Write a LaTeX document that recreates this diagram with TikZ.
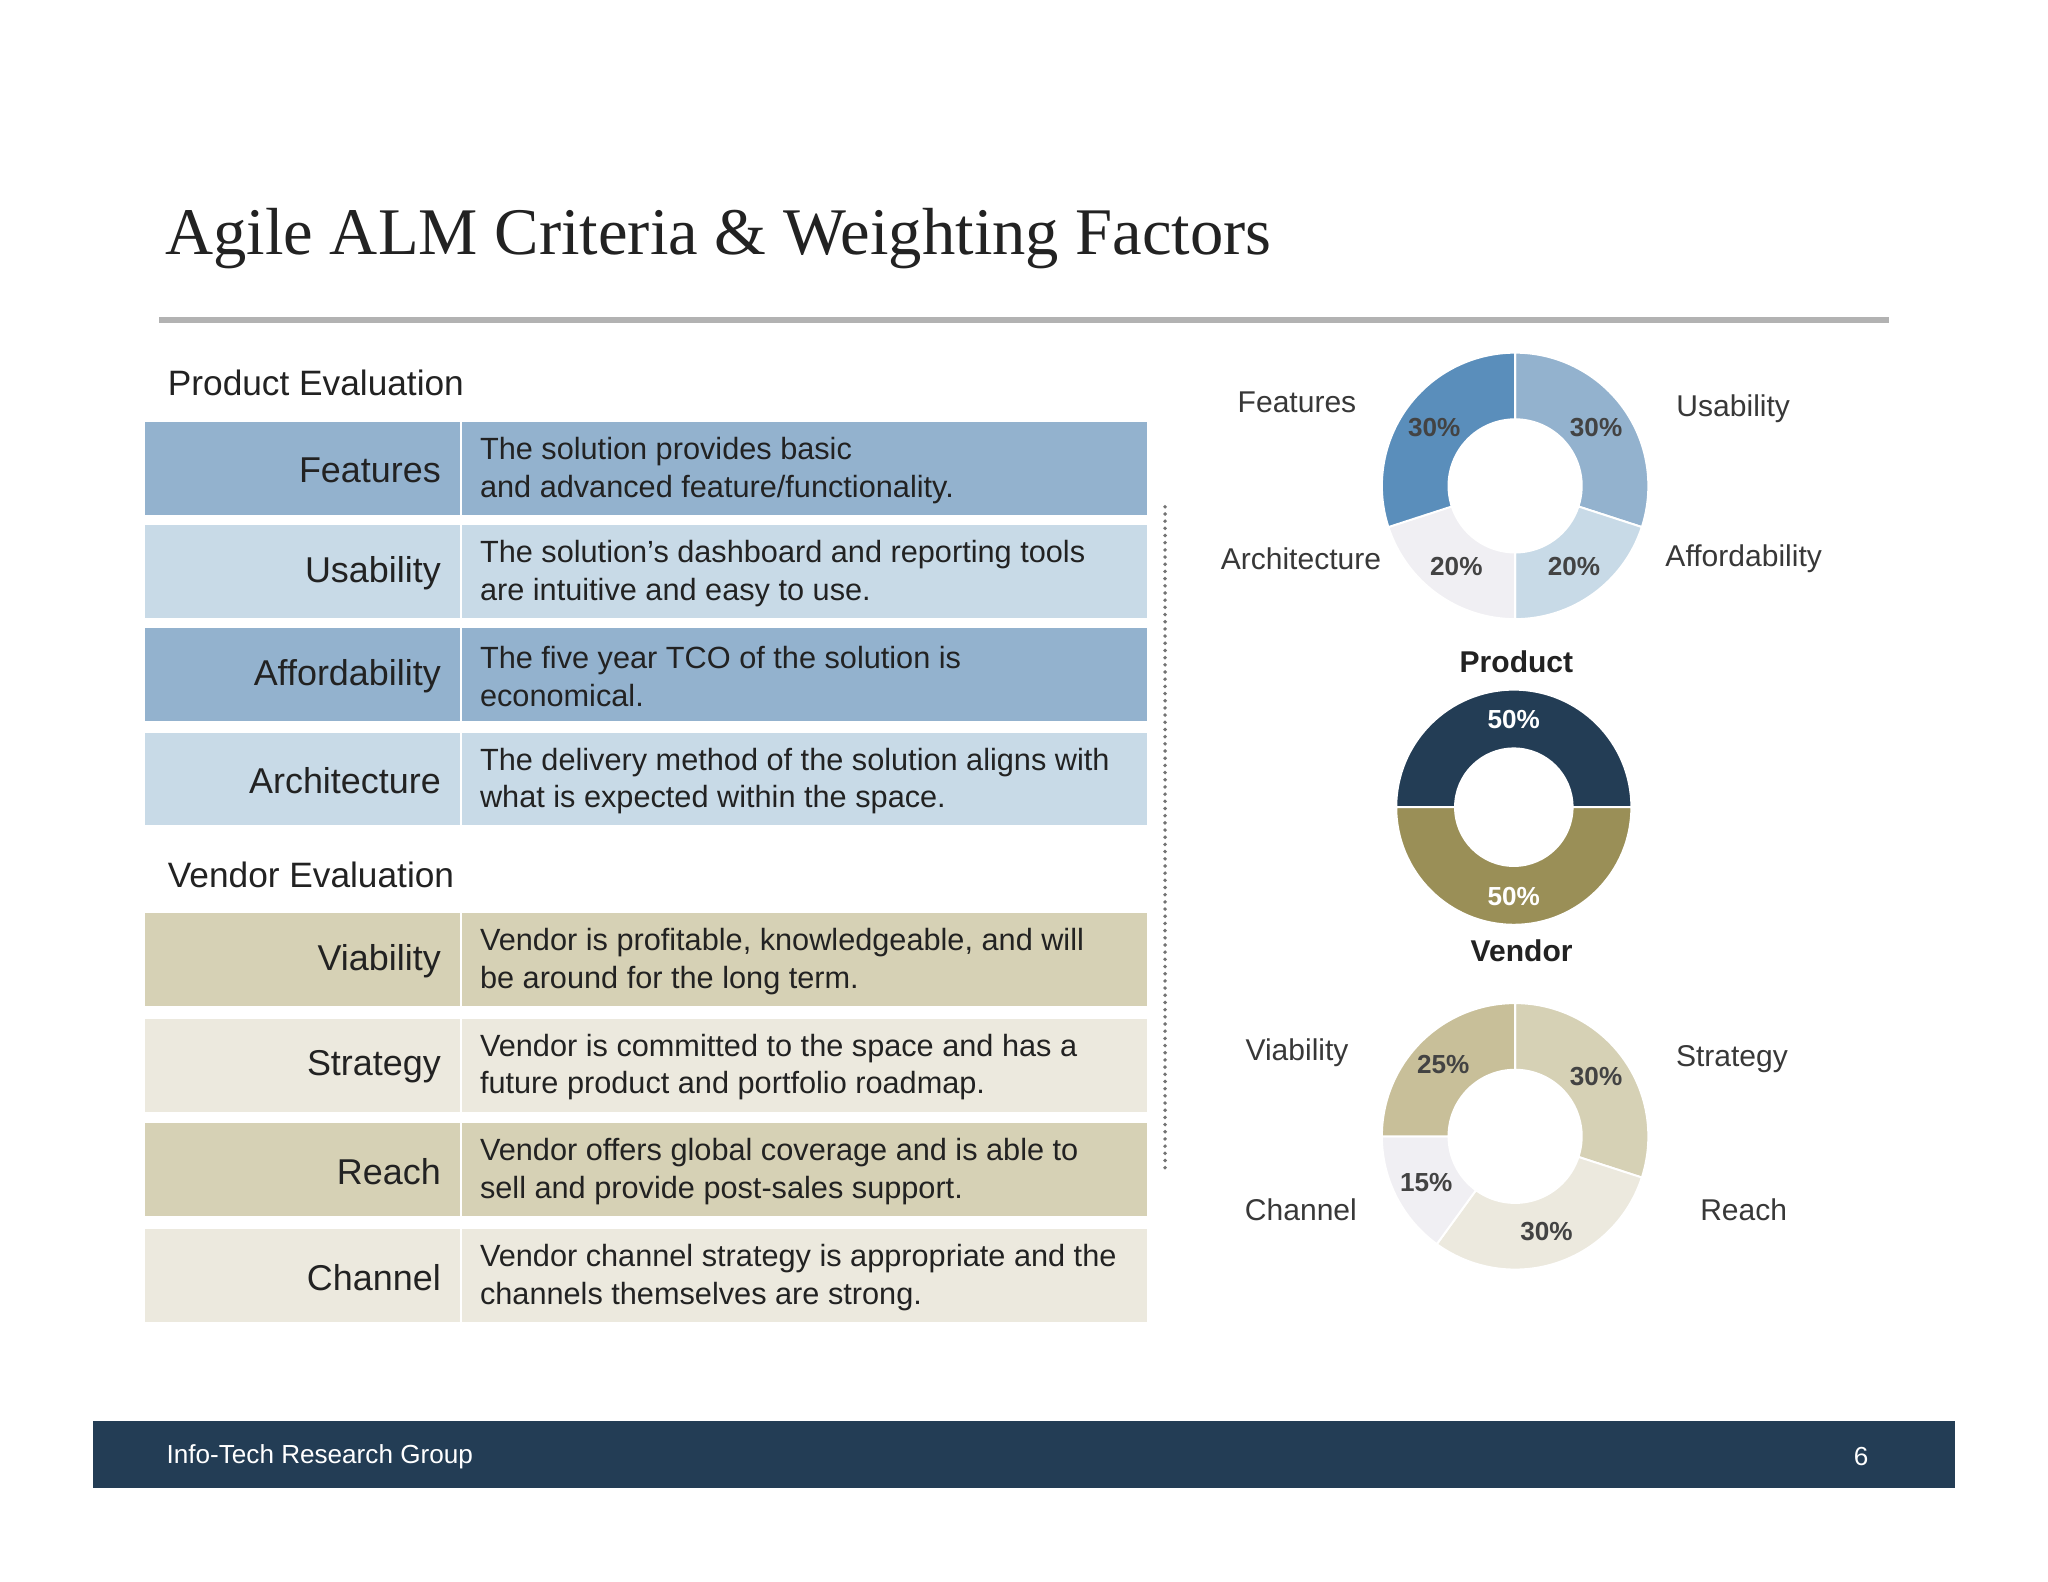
\documentclass[tikz,border=0pt]{standalone}
\usepackage{fontspec}
\setmainfont{Liberation Sans}
\newfontfamily\titlefont{Liberation Serif}
\usetikzlibrary{calc}
\definecolor{bdark}{HTML}{93B2CE}
\definecolor{blight}{HTML}{C8DAE7}
\definecolor{bdeep}{HTML}{5A8EBB}
\definecolor{bpale}{HTML}{F0EFF3}
\definecolor{tdark}{HTML}{D6D1B5}
\definecolor{tlight}{HTML}{ECE9DE}
\definecolor{tdeep}{HTML}{C8BF99}
\definecolor{navy}{HTML}{233D55}
\definecolor{olive}{HTML}{9A8F57}
\definecolor{txt}{HTML}{222222}
\newcommand{\annseg}[6]{% center, R, r, a1, a2, color
  \fill[#6,draw=white,line width=1.5pt] ($(#1)+(#4:#2)$) arc[start angle=#4,end angle=#5,radius=#2] -- ($(#1)+(#5:#3)$) arc[start angle=#5,end angle=#4,radius=#3] -- cycle;}
\tikzset{
  lab/.style={anchor=east,font=\fontsize{27.5}{30}\selectfont,text=txt},
  desc/.style={anchor=west,align=left,font=\fontsize{23.5}{29}\selectfont,text=txt},
  sec/.style={anchor=west,font=\fontsize{27}{30}\selectfont,text=txt},
  pct/.style={font=\bfseries\fontsize{20}{22}\selectfont,text=txt!85},
  olab/.style={font=\fontsize{23}{26}\selectfont,text=txt!90},
  ctitle/.style={font=\bfseries\fontsize{23}{26}\selectfont,text=txt}
}
\begin{document}
\begin{tikzpicture}[x=1pt,y=1pt]
\useasboundingbox[fill=white] (0,0) rectangle (1568,-1211);
\node[anchor=base west,font=\titlefont\fontsize{51}{54}\selectfont,text=txt] (title) at (123,-195) {Agile ALM Criteria \& Weighting Factors};
\draw[gray!60,line width=4pt] (122,-245) -- (1446,-245);
\node[sec] (pe) at (125,-293) {Product Evaluation};
% product rows
\foreach \n/\y/\c/\l/\d in {f/323/bdark/Features/{The solution provides basic\\and advanced feature/functionality.},
 u/402/blight/Usability/{The solution’s dashboard and reporting tools\\are intuitive and easy to use.},
 a/481/bdark/Affordability/{The five year TCO of the solution is\\economical.},
 r/561/blight/Architecture/{The delivery method of the solution aligns with\\what is expected within the space.}}{
  \fill[\c] (111,-\y) rectangle (352,-\y-71);
  \fill[\c] (354,-\y) rectangle (878,-\y-71);
  \node[lab] (l\n) at (341,-\y-37) {\l};
  \node[desc] (d\n) at (364,-\y-37) {\d};
}
\node[sec] (ve) at (125,-670) {Vendor Evaluation};
\foreach \n/\y/\c/\l/\d in {v/699/tdark/Viability/{Vendor is profitable, knowledgeable, and will\\be around for the long term.},
 s/780/tlight/Strategy/{Vendor is committed to the space and has a\\future product and portfolio roadmap.},
 h/860/tdark/Reach/{Vendor offers global coverage and is able to\\sell and provide post-sales support.},
 c/941/tlight/Channel/{Vendor channel strategy is appropriate and the\\channels themselves are strong.}}{
  \fill[\c] (111,-\y) rectangle (352,-\y-71);
  \fill[\c] (354,-\y) rectangle (878,-\y-71);
  \node[lab] (l\n) at (341,-\y-37) {\l};
  \node[desc] (d\n) at (364,-\y-37) {\d};
}
\draw[gray!90!black,line width=3pt,line cap=round,dash pattern=on 0pt off 5.5pt] (892,-388) -- (892,-897);
% donut 1
\coordinate (c1) at (1160,-372);
\annseg{c1}{102}{51}{90}{-18}{bdark}
\annseg{c1}{102}{51}{-18}{-90}{blight}
\annseg{c1}{102}{51}{-90}{-162}{bpale}
\annseg{c1}{102}{51}{-162}{-270}{bdeep}
\node[pct] (p1) at (1098,-327) {30\%};
\node[pct] (p2) at (1222,-327) {30\%};
\node[pct] (p3) at (1115,-434) {20\%};
\node[pct] (p4) at (1205,-434) {20\%};
\node[olab] (o1) at (993,-308) {Features};
\node[olab] (o2) at (1327,-313) {Usability};
\node[olab] (o3) at (996,-428) {Architecture};
\node[olab] (o4) at (1335,-428) {Affordability};
\node[ctitle] (prod) at (1161,-507) {Product};
% donut 2
\coordinate (c2) at (1159,-618);
\annseg{c2}{90}{45}{0}{180}{navy}
\annseg{c2}{90}{45}{180}{360}{olive}
\node[pct,text=white] (q1) at (1159,-551) {50\%};
\node[pct,text=white] (q2) at (1159,-686) {50\%};
\node[ctitle] (vend) at (1165,-728) {Vendor};
% donut 3
\coordinate (c3) at (1160,-870);
\annseg{c3}{102}{51}{90}{-18}{tdark}
\annseg{c3}{102}{51}{-18}{-126}{tlight}
\annseg{c3}{102}{51}{-126}{-180}{bpale}
\annseg{c3}{102}{51}{180}{90}{tdeep}
\node[pct] (r1) at (1105,-815) {25\%};
\node[pct] (r2) at (1222,-824) {30\%};
\node[pct] (r3) at (1092,-905) {15\%};
\node[pct] (r4) at (1184,-943) {30\%};
\node[olab] (s1) at (993,-806) {Viability};
\node[olab] (s2) at (1326,-811) {Strategy};
\node[olab] (s3) at (996,-926) {Channel};
\node[olab] (s4) at (1335,-926) {Reach};
% footer
\fill[navy] (71,-1088) rectangle (1497,-1139);
\node[anchor=west,text=white,font=\fontsize{20}{22}\selectfont] (ft) at (124,-1115) {Info-Tech Research Group};
\node[text=white,font=\fontsize{20}{22}\selectfont] (pg) at (1425,-1115) {6};
\end{tikzpicture}
\end{document}
